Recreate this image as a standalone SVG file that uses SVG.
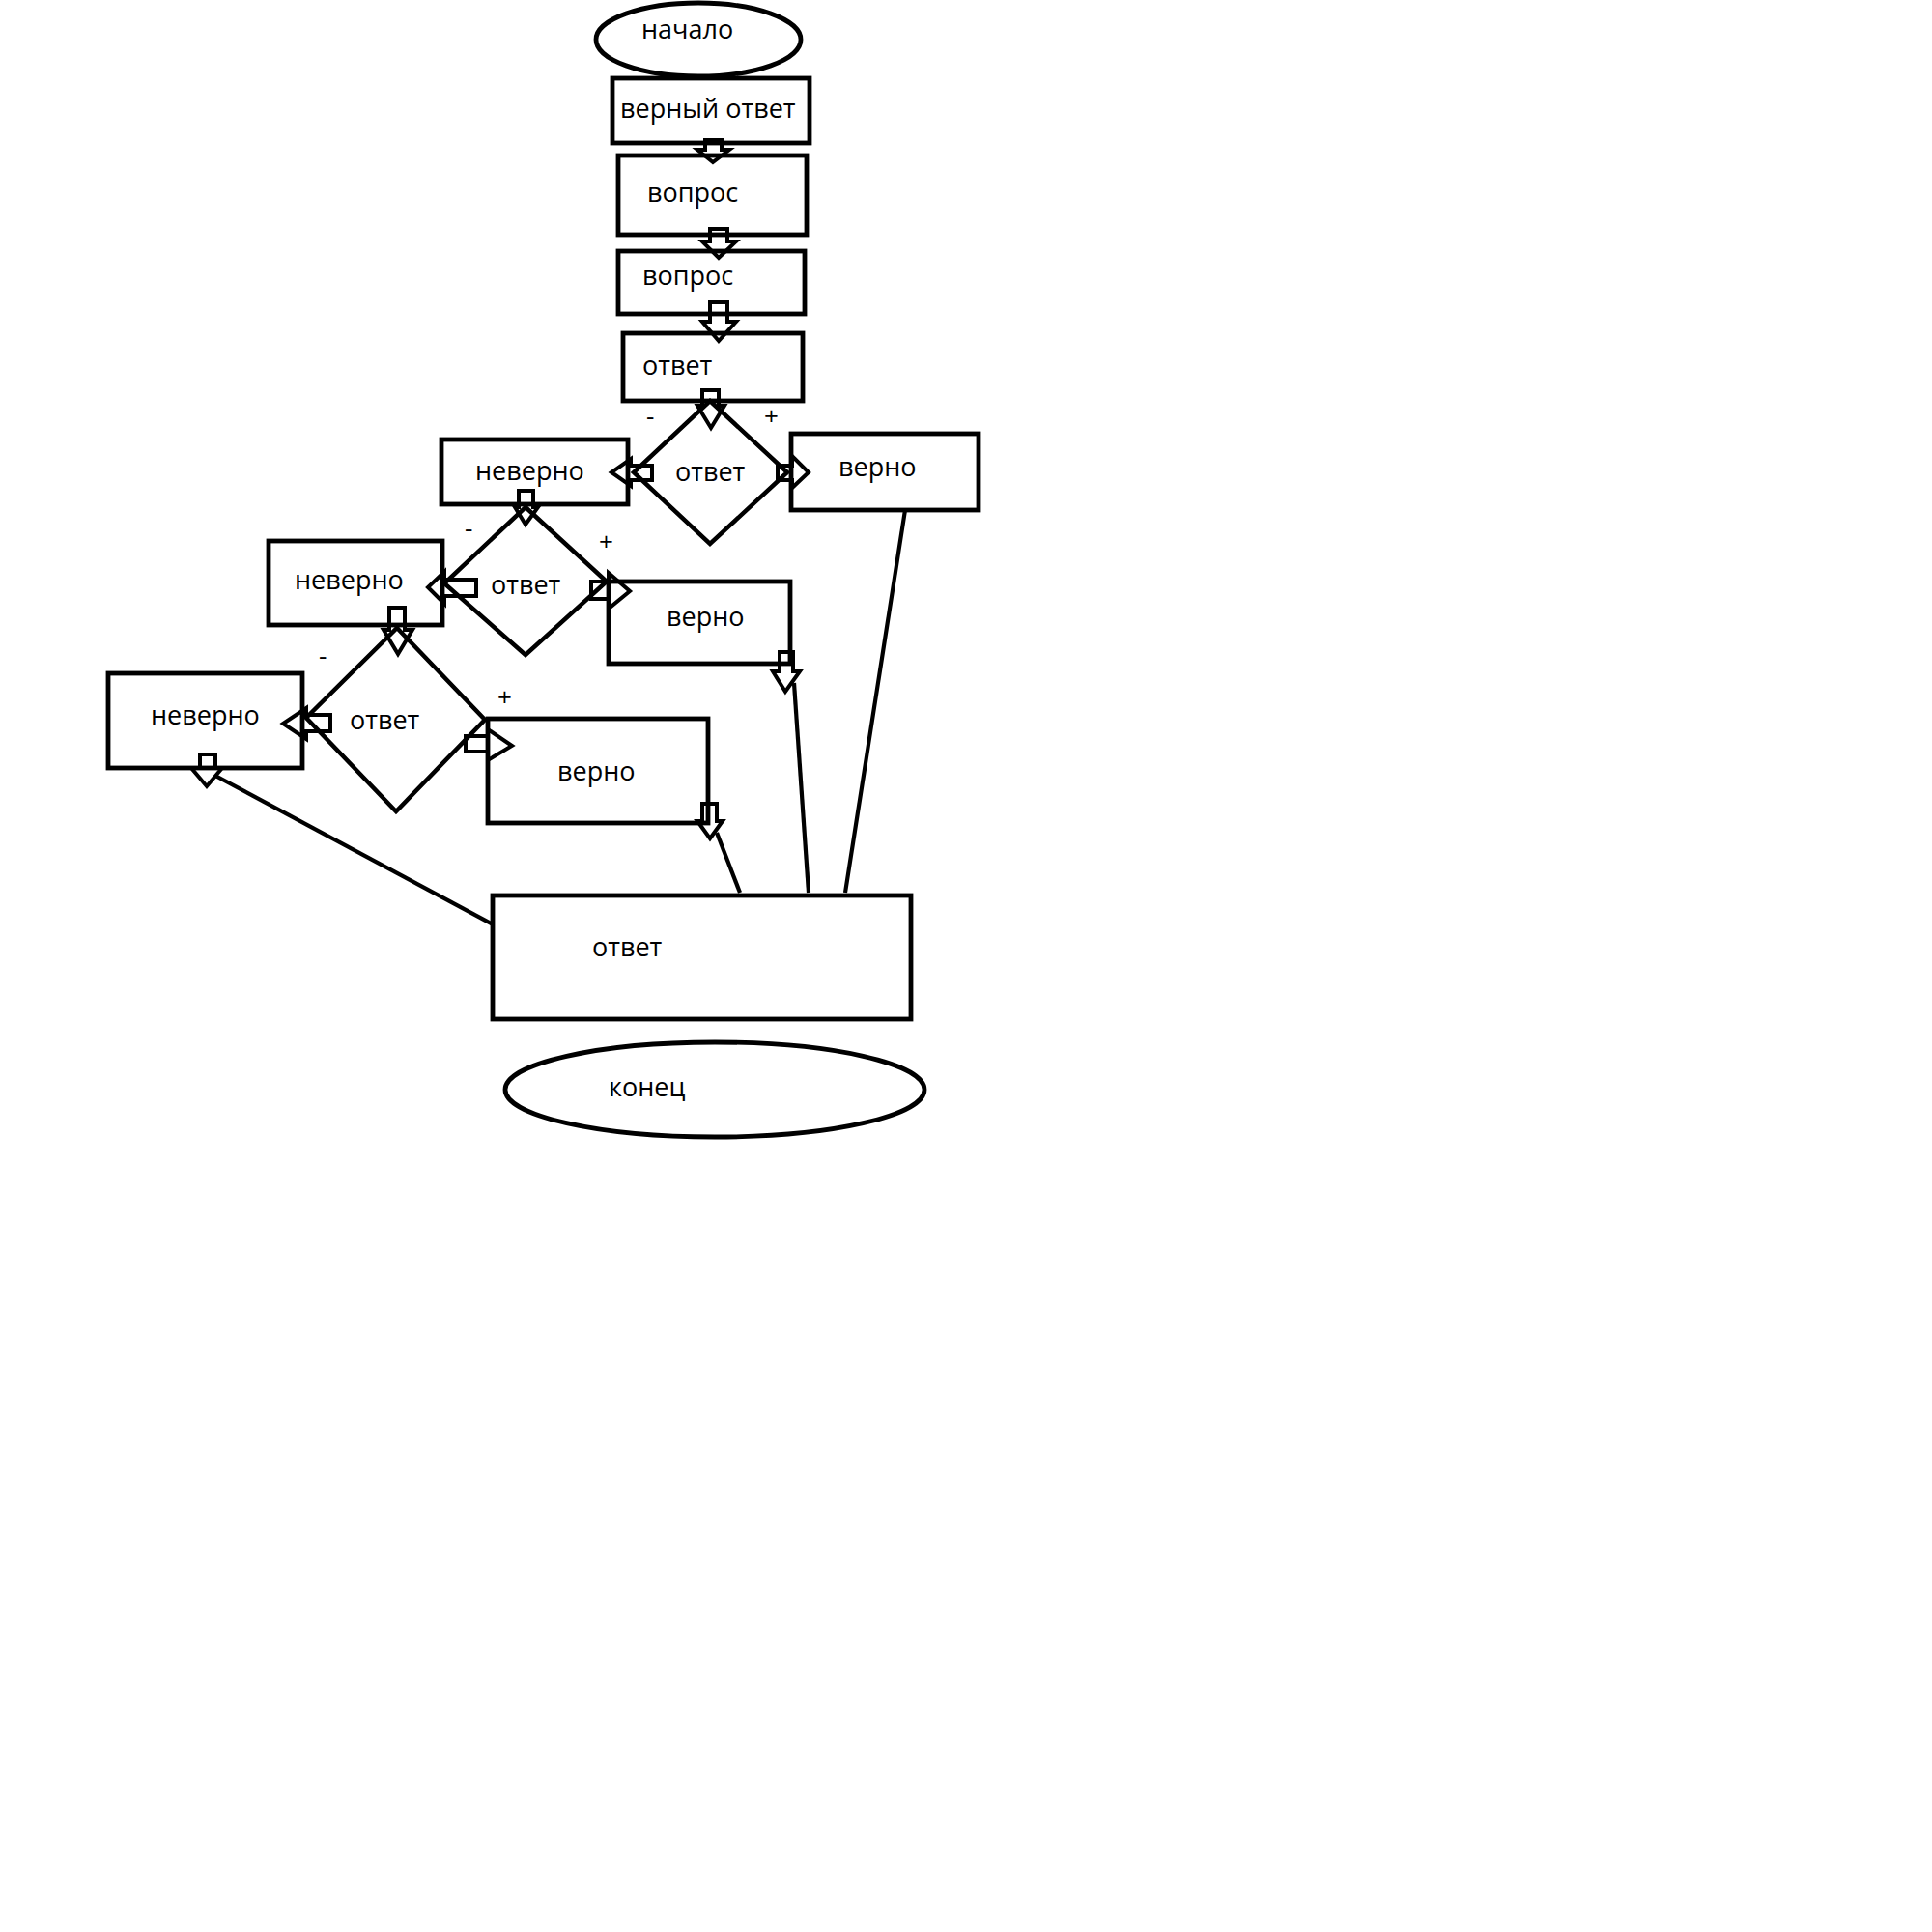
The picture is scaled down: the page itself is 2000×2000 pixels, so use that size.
<svg xmlns="http://www.w3.org/2000/svg" width="2000" height="2000" viewBox="0 0 2000 2000">
<style>
.s{fill:none;stroke:#000;stroke-width:4.8}
.d{fill:none;stroke:#000;stroke-width:4.5}
.a{fill:none;stroke:#000;stroke-width:4;stroke-linejoin:miter}
.l{fill:none;stroke:#000;stroke-width:4.2}
.t{font-family:"Open Sans","Noto Sans",sans-serif;font-size:27px;fill:#000}
.p{font-family:"Open Sans","Noto Sans",sans-serif;font-size:26px;fill:#000}
</style>
<rect width="2000" height="2000" fill="#fff"/>
<g id="start"><ellipse class="s" cx="723" cy="41" rx="106" ry="38"/><text class="t" x="664" y="40">начало</text></g>
<g id="correct-answer"><rect class="s" x="634" y="81" width="204" height="67"/><text class="t" x="642" y="122">верный ответ</text></g>
<g id="question1"><rect class="s" x="640" y="161" width="195" height="82"/><text class="t" x="670" y="209">вопрос</text></g>
<g id="question2"><rect class="s" x="640" y="260" width="193" height="65"/><text class="t" x="665" y="295">вопрос</text></g>
<g id="answer1"><rect class="s" x="645" y="345" width="186" height="70"/><text class="t" x="665" y="388">ответ</text></g>
<g id="decision1"><polygon class="d" points="735,415 815,489 735,563 656,489"/><text class="t" x="699" y="498">ответ</text></g>
<g id="wrong1"><rect class="s" x="457" y="455" width="193" height="67"/><text class="t" x="492" y="497">неверно</text></g>
<g id="right1"><rect class="s" x="819" y="449" width="194" height="79"/><text class="t" x="868" y="493">верно</text></g>
<g id="decision2"><polygon class="d" points="544,525 628,602 544,678 460,604"/><text class="t" x="508" y="615">ответ</text></g>
<g id="wrong2"><rect class="s" x="278" y="560" width="180" height="87"/><text class="t" x="305" y="610">неверно</text></g>
<g id="right2"><rect class="s" x="630" y="602" width="188" height="85"/><text class="t" x="690" y="648">верно</text></g>
<g id="decision3"><polygon class="d" points="411,650 502,745 410,840 317,743"/><text class="t" x="362" y="755">ответ</text></g>
<g id="wrong3"><rect class="s" x="112" y="697" width="201" height="98"/><text class="t" x="156" y="750">неверно</text></g>
<g id="right3"><rect class="s" x="505" y="744" width="228" height="108"/><text class="t" x="577" y="808">верно</text></g>
<g id="result"><rect class="s" x="510" y="927" width="433" height="128"/><text class="t" x="613" y="990">ответ</text></g>
<g id="end"><ellipse class="s" cx="740" cy="1128" rx="217" ry="49"/><text class="t" x="630" y="1135">конец</text></g>
<g id="labels">
<text class="p" x="669" y="440">-</text>
<text class="p" x="791" y="440">+</text>
<text class="p" x="481" y="556">-</text>
<text class="p" x="620" y="570">+</text>
<text class="p" x="330" y="688">-</text>
<text class="p" x="515" y="731">+</text>
</g>
<g id="connectors">
<polygon class="a" points="730,145 747,145 747,155 755,155 738,168 722,155 730,155"/>
<polygon class="a" points="735,237 753,237 753,250 762,250 744,267 727,250 735,250"/>
<polygon class="a" points="735,313 753,313 753,333 762,333 744,353 727,333 735,333"/>
<polygon class="a" points="727,404 744,404 744,420 750,420 736,443 722,420 727,420"/>
<polygon class="a" points="537,508 552,508 552,525 557,525 544,543 533,525 537,525"/>
<polygon class="a" points="403,629 419,629 419,652 427,652 412,677 397,652 403,652"/>
<polygon class="a" points="207,781 223,781 223,795 230,795 214,814 198,795 207,795"/>
<polygon class="a" points="807,675 821,675 821,695 828,695 813,716 800,695 807,695"/>
<polygon class="a" points="727,832 742,832 742,850 748,850 735,868 722,850 727,850"/>
<polygon class="a" points="675,482 653,482 653,475 633,489 653,503 653,497 675,497"/>
<polygon class="a" points="493,600 460,600 460,592 443,608 460,625 460,617 493,617"/>
<polygon class="a" points="342,740 317,740 317,733 293,749 317,765 317,757 342,757"/>
<polygon class="a" points="805,482 820,482 820,472 837,489 820,505 820,497 805,497"/>
<polygon class="a" points="612,602 630,602 630,593 652,612 630,630 630,620 612,620"/>
<polygon class="a" points="482,762 505,762 505,755 530,772 505,787 505,778 482,778"/>
<line class="l" x1="937" y1="528" x2="875" y2="924"/>
<line class="l" x1="822" y1="707" x2="837" y2="924"/>
<line class="l" x1="742" y1="862" x2="766" y2="924"/>
<line class="l" x1="223" y1="803" x2="510" y2="957"/>
</g>
</svg>
